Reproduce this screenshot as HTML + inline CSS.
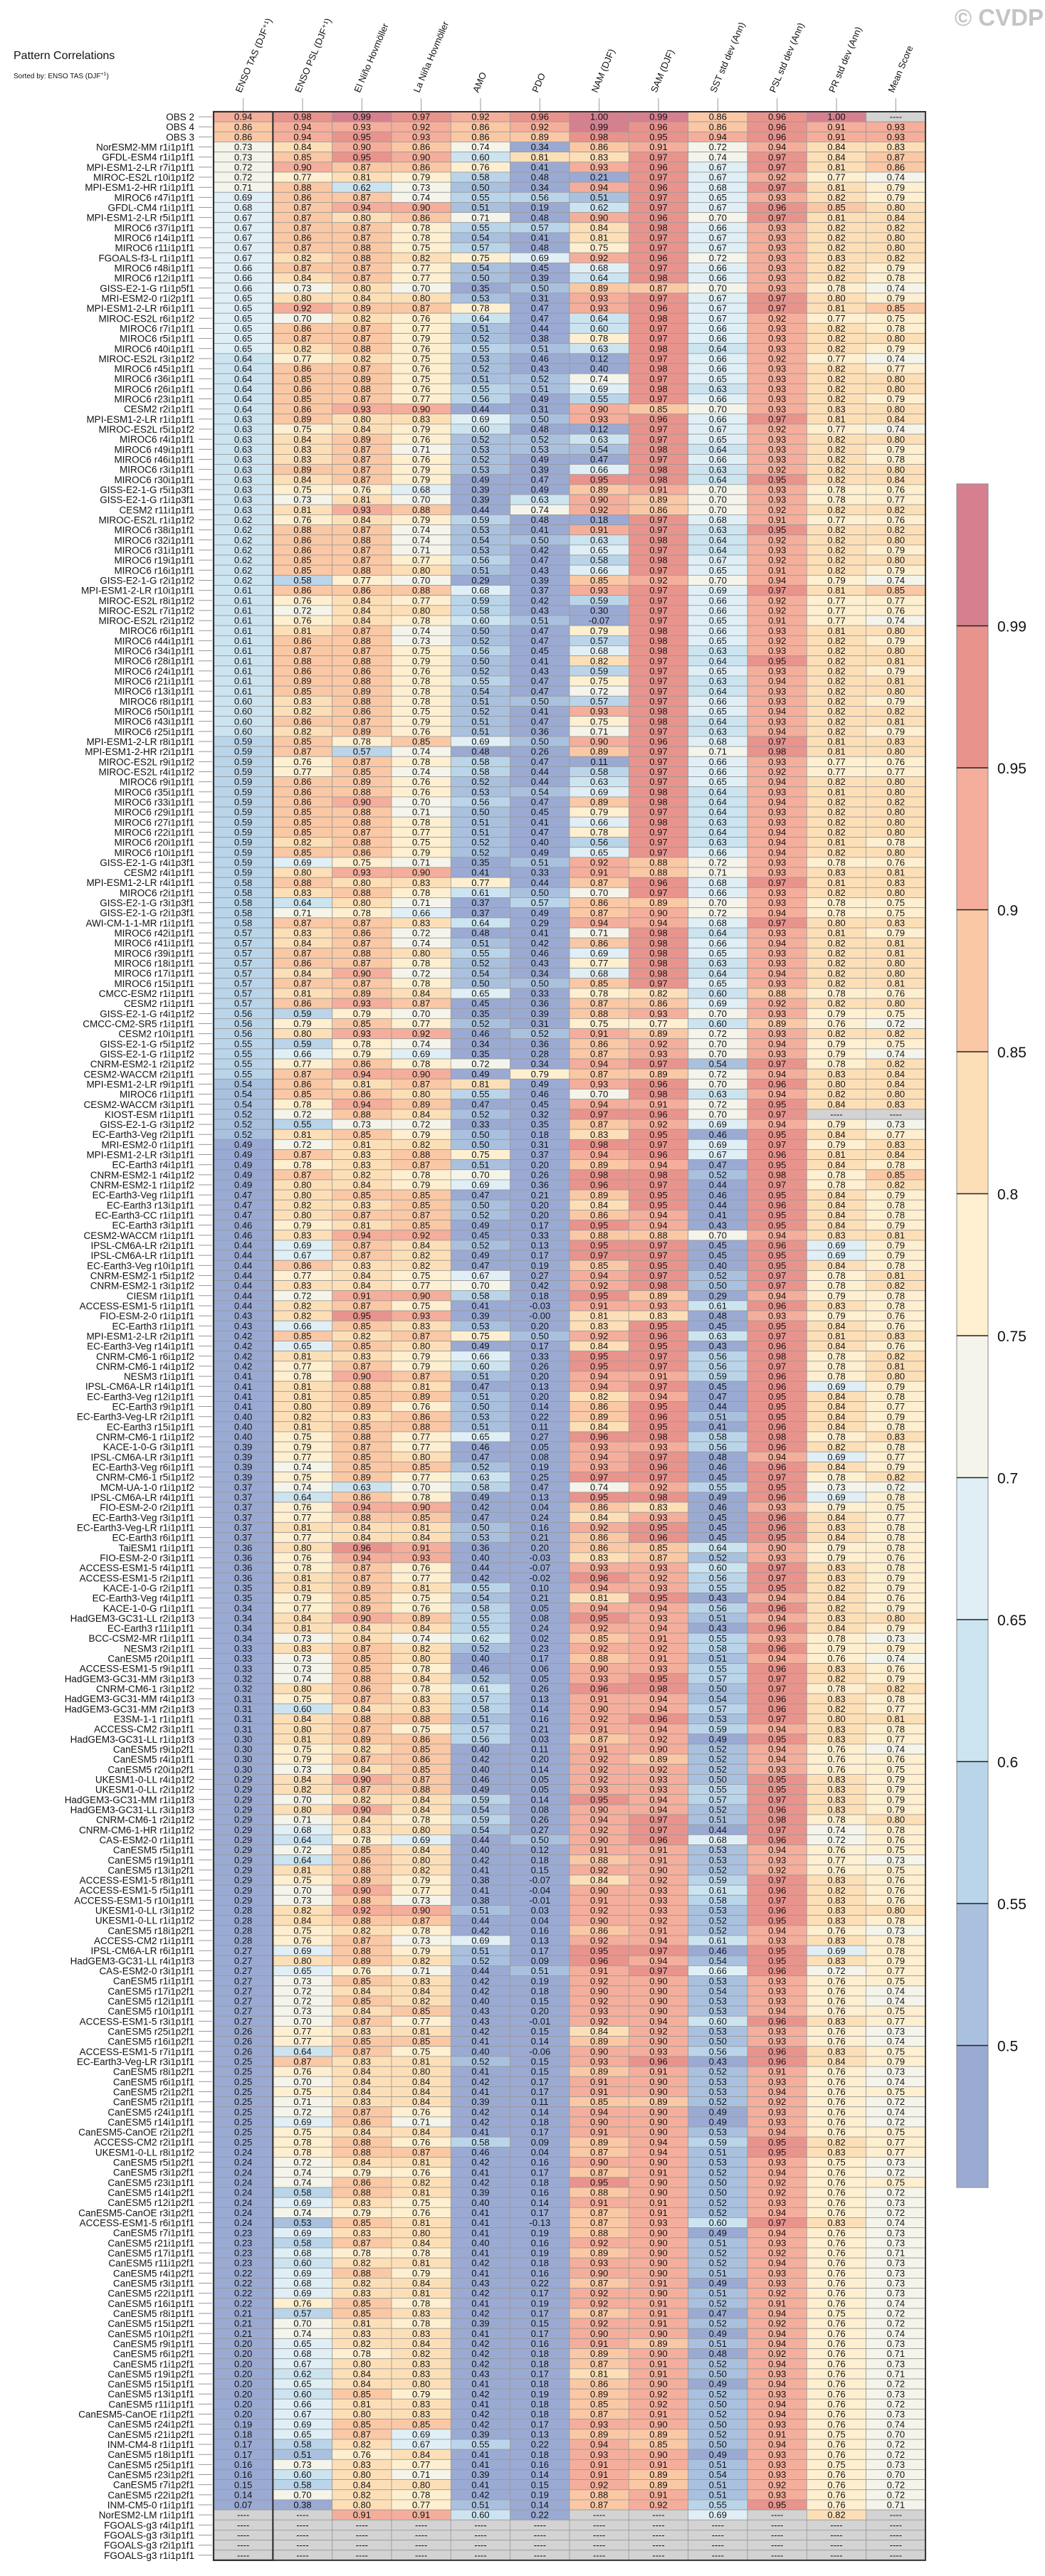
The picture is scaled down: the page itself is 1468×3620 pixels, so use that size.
<!DOCTYPE html>
<html>
<head>
<meta charset="utf-8">
<style>
  html,body{margin:0;padding:0;background:#fff;}
  svg{display:block;font-family:"Liberation Sans",Arial,sans-serif;}
</style>
</head>
<body>
<svg id="chart" xmlns="http://www.w3.org/2000/svg" width="1468" height="3620" viewBox="0 0 1468 3620">
  <rect x="0" y="0" width="1468" height="3620" fill="#fff"/>
  <text x="19" y="83" font-size="16" fill="#111">Pattern Correlations</text>
  <text x="19" y="110" font-size="10" fill="#111">Sorted by: ENSO TAS (DJF<tspan font-size="7" dy="-4">+1</tspan><tspan dy="4">)</tspan></text>
  <text x="1466" y="36" text-anchor="end" font-size="33" font-weight="bold" fill="#c4c4c4">© CVDP</text>
  <g id="headers"></g>
  <g id="names"></g>
  <g id="cells"></g>
  <g id="frame"></g>
  <g id="cbar"></g>
</svg>
<script>
const columns = ["ENSO TAS (DJF\u207A\u00B9)","ENSO PSL (DJF\u207A\u00B9)","El Ni\u00F1o Hovm\u00F6ller","La Ni\u00F1a Hovm\u00F6ller","AMO","PDO","NAM (DJF)","SAM (DJF)","SST std dev (Ann)","PSL std dev (Ann)","PR std dev (Ann)","Mean Score"];
const colKeys = ["enso-tas","enso-psl","el-nino-hovmoller","la-nina-hovmoller","amo","pdo","nam","sam","sst-std-dev","psl-std-dev","pr-std-dev","mean-score"];

const rowNames = ["OBS 2","OBS 4","OBS 3","NorESM2-MM r1i1p1f1","GFDL-ESM4 r1i1p1f1","MPI-ESM1-2-LR r7i1p1f1","MIROC-ES2L r10i1p1f2","MPI-ESM1-2-HR r1i1p1f1","MIROC6 r47i1p1f1","GFDL-CM4 r1i1p1f1","MPI-ESM1-2-LR r5i1p1f1","MIROC6 r37i1p1f1","MIROC6 r14i1p1f1","MIROC6 r11i1p1f1","FGOALS-f3-L r1i1p1f1","MIROC6 r48i1p1f1","MIROC6 r12i1p1f1","GISS-E2-1-G r1i1p5f1","MRI-ESM2-0 r1i2p1f1","MPI-ESM1-2-LR r6i1p1f1","MIROC-ES2L r6i1p1f2","MIROC6 r7i1p1f1","MIROC6 r5i1p1f1","MIROC6 r40i1p1f1","MIROC-ES2L r3i1p1f2","MIROC6 r45i1p1f1","MIROC6 r36i1p1f1","MIROC6 r26i1p1f1","MIROC6 r23i1p1f1","CESM2 r2i1p1f1","MPI-ESM1-2-LR r1i1p1f1","MIROC-ES2L r5i1p1f2","MIROC6 r4i1p1f1","MIROC6 r49i1p1f1","MIROC6 r46i1p1f1",
"MIROC6 r3i1p1f1","MIROC6 r30i1p1f1","GISS-E2-1-G r5i1p3f1","GISS-E2-1-G r1i1p3f1","CESM2 r11i1p1f1","MIROC-ES2L r1i1p1f2","MIROC6 r38i1p1f1","MIROC6 r32i1p1f1","MIROC6 r31i1p1f1","MIROC6 r19i1p1f1","MIROC6 r16i1p1f1","GISS-E2-1-G r2i1p1f2","MPI-ESM1-2-LR r10i1p1f1","MIROC-ES2L r8i1p1f2","MIROC-ES2L r7i1p1f2","MIROC-ES2L r2i1p1f2","MIROC6 r6i1p1f1","MIROC6 r44i1p1f1","MIROC6 r34i1p1f1","MIROC6 r28i1p1f1","MIROC6 r24i1p1f1","MIROC6 r21i1p1f1","MIROC6 r13i1p1f1","MIROC6 r8i1p1f1","MIROC6 r50i1p1f1","MIROC6 r43i1p1f1",
"MIROC6 r25i1p1f1","MPI-ESM1-2-LR r8i1p1f1","MPI-ESM1-2-HR r2i1p1f1","MIROC-ES2L r9i1p1f2","MIROC-ES2L r4i1p1f2","MIROC6 r9i1p1f1","MIROC6 r35i1p1f1","MIROC6 r33i1p1f1","MIROC6 r29i1p1f1","MIROC6 r27i1p1f1","MIROC6 r22i1p1f1","MIROC6 r20i1p1f1","MIROC6 r10i1p1f1","GISS-E2-1-G r4i1p3f1","CESM2 r4i1p1f1","MPI-ESM1-2-LR r4i1p1f1","MIROC6 r2i1p1f1","GISS-E2-1-G r3i1p3f1","GISS-E2-1-G r2i1p3f1","AWI-CM-1-1-MR r1i1p1f1","MIROC6 r42i1p1f1","MIROC6 r41i1p1f1","MIROC6 r39i1p1f1","MIROC6 r18i1p1f1","MIROC6 r17i1p1f1","MIROC6 r15i1p1f1",
"CMCC-ESM2 r1i1p1f1","CESM2 r1i1p1f1","GISS-E2-1-G r4i1p1f2","CMCC-CM2-SR5 r1i1p1f1","CESM2 r10i1p1f1","GISS-E2-1-G r5i1p1f2","GISS-E2-1-G r1i1p1f2","CNRM-ESM2-1 r2i1p1f2",
"CESM2-WACCM r2i1p1f1","MPI-ESM1-2-LR r9i1p1f1","MIROC6 r1i1p1f1","CESM2-WACCM r3i1p1f1","KIOST-ESM r1i1p1f1","GISS-E2-1-G r3i1p1f2","EC-Earth3-Veg r2i1p1f1","MRI-ESM2-0 r1i1p1f1","MPI-ESM1-2-LR r3i1p1f1","EC-Earth3 r4i1p1f1","CNRM-ESM2-1 r4i1p1f2","CNRM-ESM2-1 r1i1p1f2","EC-Earth3-Veg r1i1p1f1","EC-Earth3 r13i1p1f1","EC-Earth3-CC r1i1p1f1","EC-Earth3 r3i1p1f1","CESM2-WACCM r1i1p1f1","IPSL-CM6A-LR r2i1p1f1","IPSL-CM6A-LR r1i1p1f1","EC-Earth3-Veg r10i1p1f1","CNRM-ESM2-1 r5i1p1f2","CNRM-ESM2-1 r3i1p1f2","CIESM r1i1p1f1","ACCESS-ESM1-5 r1i1p1f1","FIO-ESM-2-0 r1i1p1f1",
"EC-Earth3 r1i1p1f1","MPI-ESM1-2-LR r2i1p1f1","EC-Earth3-Veg r14i1p1f1","CNRM-CM6-1 r6i1p1f2","CNRM-CM6-1 r4i1p1f2","NESM3 r1i1p1f1","IPSL-CM6A-LR r14i1p1f1","EC-Earth3-Veg r12i1p1f1","EC-Earth3 r9i1p1f1","EC-Earth3-Veg-LR r2i1p1f1","EC-Earth3 r15i1p1f1","CNRM-CM6-1 r1i1p1f2","KACE-1-0-G r3i1p1f1","IPSL-CM6A-LR r3i1p1f1","EC-Earth3-Veg r6i1p1f1","CNRM-CM6-1 r5i1p1f2","MCM-UA-1-0 r1i1p1f2","IPSL-CM6A-LR r4i1p1f1","FIO-ESM-2-0 r2i1p1f1","EC-Earth3-Veg r3i1p1f1","EC-Earth3-Veg-LR r1i1p1f1","EC-Earth3 r6i1p1f1","TaiESM1 r1i1p1f1","FIO-ESM-2-0 r3i1p1f1","ACCESS-ESM1-5 r4i1p1f1",
"ACCESS-ESM1-5 r2i1p1f1","KACE-1-0-G r2i1p1f1","EC-Earth3-Veg r4i1p1f1","KACE-1-0-G r1i1p1f1","HadGEM3-GC31-LL r2i1p1f3","EC-Earth3 r11i1p1f1","BCC-CSM2-MR r1i1p1f1","NESM3 r2i1p1f1","CanESM5 r20i1p1f1","ACCESS-ESM1-5 r9i1p1f1","HadGEM3-GC31-MM r3i1p1f3","CNRM-CM6-1 r3i1p1f2","HadGEM3-GC31-MM r4i1p1f3","HadGEM3-GC31-MM r2i1p1f3","E3SM-1-1 r1i1p1f1","ACCESS-CM2 r3i1p1f1","HadGEM3-GC31-LL r1i1p1f3","CanESM5 r9i1p2f1","CanESM5 r4i1p1f1","CanESM5 r20i1p2f1","UKESM1-0-LL r4i1p1f2","UKESM1-0-LL r2i1p1f2","HadGEM3-GC31-MM r1i1p1f3","HadGEM3-GC31-LL r3i1p1f3","CNRM-CM6-1 r2i1p1f2",
"CNRM-CM6-1-HR r1i1p1f2","CAS-ESM2-0 r1i1p1f1","CanESM5 r5i1p1f1","CanESM5 r19i1p1f1","CanESM5 r13i1p2f1","ACCESS-ESM1-5 r8i1p1f1","ACCESS-ESM1-5 r5i1p1f1","ACCESS-ESM1-5 r10i1p1f1","UKESM1-0-LL r3i1p1f2","UKESM1-0-LL r1i1p1f2","CanESM5 r18i1p2f1","ACCESS-CM2 r1i1p1f1","IPSL-CM6A-LR r6i1p1f1","HadGEM3-GC31-LL r4i1p1f3","CAS-ESM2-0 r3i1p1f1","CanESM5 r1i1p1f1","CanESM5 r17i1p2f1","CanESM5 r12i1p1f1","CanESM5 r10i1p1f1","ACCESS-ESM1-5 r3i1p1f1","CanESM5 r25i1p2f1","CanESM5 r16i1p2f1","ACCESS-ESM1-5 r7i1p1f1","EC-Earth3-Veg-LR r3i1p1f1","CanESM5 r8i1p2f1",
"CanESM5 r6i1p1f1","CanESM5 r2i1p2f1","CanESM5 r2i1p1f1","CanESM5 r24i1p1f1","CanESM5 r14i1p1f1","CanESM5-CanOE r2i1p2f1","ACCESS-CM2 r2i1p1f1","UKESM1-0-LL r8i1p1f2","CanESM5 r5i1p2f1","CanESM5 r3i1p2f1","CanESM5 r23i1p1f1","CanESM5 r14i1p2f1","CanESM5 r12i1p2f1","CanESM5-CanOE r3i1p2f1","ACCESS-ESM1-5 r6i1p1f1","CanESM5 r7i1p1f1","CanESM5 r21i1p1f1","CanESM5 r17i1p1f1","CanESM5 r11i1p2f1","CanESM5 r4i1p2f1","CanESM5 r3i1p1f1","CanESM5 r22i1p1f1","CanESM5 r16i1p1f1","CanESM5 r8i1p1f1","CanESM5 r15i1p2f1",
"CanESM5 r10i1p2f1","CanESM5 r9i1p1f1","CanESM5 r6i1p2f1","CanESM5 r1i1p2f1","CanESM5 r19i1p2f1","CanESM5 r15i1p1f1","CanESM5 r13i1p1f1","CanESM5 r11i1p1f1","CanESM5-CanOE r1i1p2f1","CanESM5 r24i1p2f1","CanESM5 r21i1p2f1","INM-CM4-8 r1i1p1f1","CanESM5 r18i1p1f1","CanESM5 r25i1p1f1","CanESM5 r23i1p2f1","CanESM5 r7i1p2f1","CanESM5 r22i1p2f1","INM-CM5-0 r1i1p1f1","NorESM2-LM r1i1p1f1","FGOALS-g3 r4i1p1f1","FGOALS-g3 r3i1p1f1","FGOALS-g3 r2i1p1f1","FGOALS-g3 r1i1p1f1"];

const N = null;
const values = [
[.94,.98,.99,.97,.92,.96,1.00,.99,.86,.96,1.00,N],
[.86,.94,.93,.92,.86,.92,.99,.96,.86,.96,.91,.93],
[.86,.94,.95,.93,.86,.89,.98,.95,.94,.96,.91,.93],
[.73,.84,.90,.86,.74,.34,.86,.91,.72,.94,.84,.83],
[.73,.85,.95,.90,.60,.81,.83,.97,.74,.97,.84,.87],
[.72,.90,.87,.86,.76,.41,.93,.96,.67,.97,.81,.86],
[.72,.77,.81,.79,.58,.48,.21,.97,.67,.92,.77,.74],
[.71,.88,.62,.73,.50,.34,.94,.96,.68,.97,.81,.79],
[.69,.86,.87,.74,.55,.56,.51,.97,.65,.93,.82,.79],
[.68,.87,.94,.90,.51,.19,.62,.97,.67,.96,.85,.80],
[.67,.87,.80,.86,.71,.48,.90,.96,.70,.97,.81,.84],
[.67,.87,.87,.78,.55,.57,.84,.98,.66,.93,.82,.82],
[.67,.86,.87,.78,.54,.41,.81,.97,.67,.93,.82,.80],
[.67,.87,.88,.75,.57,.48,.75,.97,.67,.93,.82,.80],
[.67,.82,.88,.82,.75,.69,.92,.96,.72,.93,.83,.82],
[.66,.87,.87,.77,.54,.45,.68,.97,.66,.93,.82,.79],
[.66,.84,.87,.77,.50,.39,.64,.98,.66,.93,.82,.78],
[.66,.73,.80,.70,.35,.50,.89,.87,.70,.93,.78,.74],
[.65,.80,.84,.80,.53,.31,.93,.97,.67,.97,.80,.79],
[.65,.92,.89,.87,.78,.47,.93,.96,.67,.97,.81,.85],
[.65,.70,.82,.76,.64,.47,.64,.98,.67,.92,.77,.75],
[.65,.86,.87,.77,.51,.44,.60,.97,.66,.93,.82,.78],
[.65,.87,.87,.79,.52,.38,.78,.97,.66,.93,.82,.80],
[.65,.82,.88,.76,.55,.51,.63,.98,.64,.93,.82,.79],
[.64,.77,.82,.75,.53,.46,.12,.97,.66,.92,.77,.74],
[.64,.86,.87,.76,.52,.43,.40,.98,.66,.93,.82,.77],
[.64,.85,.89,.75,.51,.52,.74,.97,.65,.93,.82,.80],
[.64,.86,.88,.76,.55,.51,.69,.98,.63,.93,.82,.80],
[.64,.85,.87,.77,.56,.49,.55,.97,.66,.93,.82,.79],
[.64,.86,.93,.90,.44,.31,.90,.85,.70,.93,.83,.80],
[.63,.89,.80,.83,.69,.50,.93,.96,.66,.97,.81,.84],
[.63,.75,.84,.79,.60,.48,.12,.97,.67,.92,.77,.74],
[.63,.84,.89,.76,.52,.52,.63,.97,.65,.93,.82,.80],
[.63,.83,.87,.71,.53,.53,.54,.98,.64,.93,.82,.79],
[.63,.83,.87,.76,.52,.49,.47,.97,.66,.93,.82,.78],
[.63,.89,.87,.79,.53,.39,.66,.98,.63,.92,.82,.80],
[.63,.84,.87,.79,.49,.47,.95,.98,.64,.95,.82,.84],
[.63,.75,.76,.68,.39,.49,.89,.91,.70,.93,.78,.76],
[.63,.73,.81,.70,.39,.63,.90,.89,.70,.93,.78,.77],
[.63,.81,.93,.88,.44,.74,.92,.86,.70,.92,.82,.82],
[.62,.76,.84,.79,.59,.48,.18,.97,.68,.91,.77,.76],
[.62,.88,.87,.74,.53,.41,.91,.97,.63,.95,.82,.82],
[.62,.86,.88,.74,.54,.50,.63,.98,.64,.92,.82,.80],
[.62,.86,.87,.71,.53,.42,.65,.97,.64,.93,.82,.79],
[.62,.85,.87,.77,.56,.47,.58,.98,.67,.92,.82,.80],
[.62,.85,.88,.80,.51,.43,.66,.97,.65,.91,.82,.79],
[.62,.58,.77,.70,.29,.39,.85,.92,.70,.94,.79,.74],
[.61,.86,.86,.88,.68,.37,.93,.97,.69,.97,.81,.85],
[.61,.76,.84,.77,.59,.42,.59,.97,.66,.92,.77,.77],
[.61,.72,.84,.80,.58,.43,.30,.97,.66,.92,.77,.76],
[.61,.76,.84,.78,.60,.51,-.07,.97,.65,.91,.77,.74],
[.61,.81,.87,.74,.50,.47,.79,.98,.66,.93,.81,.80],
[.61,.86,.88,.73,.52,.47,.57,.98,.65,.92,.82,.79],
[.61,.87,.87,.75,.56,.45,.68,.98,.63,.93,.82,.80],
[.61,.88,.88,.79,.50,.41,.82,.97,.64,.95,.82,.81],
[.61,.86,.86,.76,.52,.43,.59,.97,.65,.93,.82,.79],
[.61,.89,.88,.78,.55,.47,.75,.97,.63,.94,.82,.81],
[.61,.85,.89,.78,.54,.47,.72,.97,.64,.93,.82,.80],
[.60,.83,.88,.78,.51,.50,.57,.97,.66,.93,.82,.79],
[.60,.82,.86,.75,.52,.41,.93,.98,.65,.94,.82,.82],
[.60,.86,.87,.79,.51,.47,.75,.98,.64,.93,.82,.81],
[.60,.82,.89,.76,.51,.36,.71,.97,.63,.94,.82,.79],
[.59,.85,.78,.85,.69,.50,.90,.96,.68,.97,.81,.83],
[.59,.87,.57,.74,.48,.26,.89,.97,.71,.98,.81,.80],
[.59,.76,.87,.78,.58,.47,.11,.97,.66,.93,.77,.76],
[.59,.77,.85,.74,.58,.44,.58,.97,.66,.92,.77,.77],
[.59,.86,.89,.76,.52,.44,.63,.97,.65,.94,.82,.80],
[.59,.86,.88,.76,.53,.54,.69,.98,.64,.93,.81,.80],
[.59,.86,.90,.70,.56,.47,.89,.98,.64,.94,.82,.82],
[.59,.85,.88,.71,.50,.45,.79,.97,.64,.93,.82,.80],
[.59,.85,.88,.78,.51,.41,.66,.98,.63,.93,.82,.80],
[.59,.85,.87,.77,.51,.47,.78,.97,.64,.94,.82,.80],
[.59,.82,.88,.75,.52,.40,.56,.97,.63,.94,.81,.78],
[.59,.85,.86,.79,.52,.49,.65,.97,.66,.94,.82,.80],
[.59,.69,.75,.71,.35,.51,.92,.88,.72,.93,.78,.76],
[.59,.80,.93,.90,.41,.33,.91,.88,.71,.93,.83,.81],
[.58,.88,.80,.83,.77,.44,.87,.96,.68,.97,.81,.83],
[.58,.83,.88,.78,.61,.50,.70,.97,.66,.93,.82,.80],
[.58,.64,.80,.71,.37,.57,.86,.89,.70,.93,.78,.75],
[.58,.71,.78,.66,.37,.49,.87,.90,.72,.94,.78,.75],
[.58,.87,.87,.83,.64,.29,.94,.94,.68,.97,.80,.83],
[.57,.83,.86,.72,.48,.41,.71,.98,.64,.93,.81,.79],
[.57,.84,.87,.74,.51,.42,.86,.98,.66,.94,.82,.81],
[.57,.87,.88,.80,.55,.46,.69,.98,.65,.93,.82,.81],
[.57,.86,.87,.78,.52,.43,.77,.98,.63,.93,.82,.80],
[.57,.84,.90,.72,.54,.34,.68,.98,.64,.94,.82,.80],
[.57,.87,.87,.78,.50,.50,.85,.97,.65,.93,.82,.81],
[.57,.81,.89,.84,.65,.33,.78,.82,.60,.88,.78,.76],
[.57,.86,.93,.87,.45,.36,.87,.86,.69,.92,.82,.80],
[.56,.59,.79,.70,.35,.39,.88,.93,.70,.93,.79,.75],
[.56,.79,.85,.77,.52,.31,.75,.77,.60,.89,.76,.72],
[.56,.80,.93,.92,.46,.52,.91,.89,.72,.93,.82,.82],
[.55,.59,.78,.74,.34,.36,.86,.92,.70,.94,.79,.75],
[.55,.66,.79,.69,.35,.28,.87,.93,.70,.93,.79,.74],
[.55,.77,.86,.78,.72,.34,.94,.97,.54,.97,.78,.82],
[.55,.87,.94,.90,.49,.79,.87,.89,.72,.94,.83,.84],
[.54,.86,.81,.87,.81,.49,.93,.96,.70,.96,.80,.84],
[.54,.85,.86,.80,.55,.46,.70,.98,.63,.94,.82,.80],
[.54,.78,.94,.89,.47,.45,.94,.91,.72,.95,.84,.83],
[.52,.72,.88,.84,.52,.32,.97,.96,.70,.97,N,N],
[.52,.55,.73,.72,.33,.35,.87,.92,.69,.94,.79,.73],
[.52,.81,.85,.79,.50,.18,.83,.95,.46,.95,.84,.77],
[.49,.72,.81,.82,.50,.31,.98,.97,.69,.97,.79,.83],
[.49,.87,.83,.88,.75,.37,.94,.96,.67,.96,.81,.84],
[.49,.78,.83,.87,.51,.20,.89,.94,.47,.95,.84,.78],
[.49,.87,.82,.78,.70,.26,.98,.98,.52,.98,.78,.85],
[.49,.80,.84,.79,.69,.36,.96,.97,.44,.97,.78,.82],
[.47,.80,.85,.85,.47,.21,.89,.95,.46,.95,.84,.79],
[.47,.82,.83,.85,.50,.20,.84,.95,.44,.96,.84,.78],
[.47,.80,.87,.87,.52,.20,.86,.94,.41,.95,.84,.78],
[.46,.79,.81,.85,.49,.17,.95,.94,.43,.95,.84,.79],
[.46,.83,.94,.92,.45,.33,.88,.88,.70,.94,.83,.81],
[.44,.69,.87,.84,.52,.13,.95,.97,.45,.96,.69,.79],
[.44,.67,.87,.82,.49,.17,.97,.97,.45,.95,.69,.79],
[.44,.86,.83,.82,.47,.19,.85,.95,.40,.95,.84,.78],
[.44,.77,.84,.75,.67,.27,.94,.97,.52,.97,.78,.81],
[.44,.83,.84,.77,.70,.42,.92,.98,.50,.97,.78,.82],
[.44,.72,.91,.90,.58,.18,.95,.89,.29,.94,.79,.78],
[.44,.82,.87,.75,.41,-.03,.91,.93,.61,.96,.83,.78],
[.43,.82,.95,.93,.39,-0,.81,.83,.48,.93,.79,.76],
[.43,.66,.85,.83,.53,.20,.83,.95,.45,.95,.84,.76],
[.42,.85,.82,.87,.75,.50,.92,.96,.63,.97,.81,.83],
[.42,.65,.85,.80,.49,.17,.84,.95,.43,.96,.84,.76],
[.42,.81,.83,.79,.66,.33,.95,.97,.56,.98,.78,.82],
[.42,.77,.87,.79,.60,.26,.95,.97,.56,.97,.78,.81],
[.41,.78,.90,.87,.51,.20,.94,.91,.59,.96,.78,.80],
[.41,.81,.88,.81,.47,.13,.94,.97,.45,.96,.69,.79],
[.41,.81,.85,.89,.51,.20,.82,.94,.47,.95,.84,.78],
[.41,.80,.89,.76,.50,.14,.86,.95,.44,.95,.84,.77],
[.40,.82,.83,.86,.53,.22,.89,.96,.51,.95,.84,.79],
[.40,.81,.85,.88,.51,.11,.84,.95,.41,.96,.84,.78],
[.40,.75,.88,.77,.65,.27,.96,.98,.58,.98,.78,.83],
[.39,.79,.87,.77,.46,.05,.93,.93,.56,.96,.82,.78],
[.39,.77,.85,.80,.47,.08,.94,.97,.48,.94,.69,.77],
[.39,.74,.85,.85,.52,.19,.93,.96,.46,.96,.84,.79],
[.39,.75,.89,.77,.63,.25,.97,.97,.45,.97,.78,.82],
[.37,.74,.63,.70,.58,.47,.74,.92,.55,.95,.73,.72],
[.37,.64,.86,.78,.49,.13,.95,.98,.49,.96,.69,.78],
[.37,.76,.94,.90,.42,.04,.86,.83,.46,.93,.79,.75],
[.37,.77,.88,.85,.47,.24,.84,.93,.45,.96,.84,.77],
[.37,.81,.84,.81,.50,.16,.92,.95,.45,.96,.83,.78],
[.37,.77,.84,.84,.53,.21,.86,.96,.45,.95,.84,.78],
[.36,.80,.96,.91,.36,.20,.86,.85,.64,.90,.79,.78],
[.36,.76,.94,.93,.40,-.03,.83,.87,.52,.93,.79,.76],
[.36,.78,.87,.76,.44,-.07,.93,.93,.60,.97,.83,.78],
[.36,.81,.87,.77,.42,-.02,.96,.92,.56,.97,.83,.79],
[.35,.81,.89,.81,.55,.10,.94,.93,.55,.95,.82,.79],
[.35,.79,.85,.75,.54,.21,.81,.95,.43,.94,.84,.76],
[.34,.77,.89,.76,.58,.05,.94,.94,.56,.96,.82,.79],
[.34,.84,.90,.89,.55,.08,.95,.93,.51,.94,.83,.80],
[.34,.81,.84,.84,.55,.24,.92,.94,.43,.96,.84,.79],
[.34,.73,.84,.74,.62,.02,.85,.91,.55,.93,.78,.73],
[.33,.83,.87,.82,.52,.23,.92,.92,.58,.96,.79,.79],
[.33,.73,.85,.80,.40,.17,.88,.91,.51,.94,.76,.74],
[.33,.73,.85,.78,.46,.06,.90,.93,.55,.96,.83,.76],
[.32,.74,.88,.84,.52,.05,.93,.95,.57,.97,.82,.79],
[.32,.80,.86,.78,.61,.26,.96,.98,.50,.97,.78,.82],
[.31,.75,.87,.83,.57,.13,.91,.94,.54,.96,.83,.78],
[.31,.60,.84,.83,.58,.14,.90,.94,.57,.96,.82,.77],
[.31,.84,.88,.88,.51,.16,.92,.96,.53,.97,.80,.81],
[.31,.80,.87,.75,.57,.21,.91,.94,.59,.94,.83,.78],
[.30,.81,.89,.86,.56,.03,.87,.92,.49,.95,.83,.77],
[.30,.75,.82,.85,.40,.11,.91,.90,.52,.94,.76,.74],
[.30,.79,.87,.86,.42,.20,.92,.89,.52,.94,.76,.76],
[.30,.73,.84,.85,.40,.14,.92,.92,.52,.93,.76,.75],
[.29,.84,.90,.87,.46,.05,.92,.93,.50,.95,.83,.79],
[.29,.82,.87,.88,.49,.05,.93,.93,.55,.95,.83,.79],
[.29,.70,.82,.84,.59,.14,.95,.94,.57,.97,.83,.79],
[.29,.80,.90,.84,.54,.08,.90,.94,.52,.96,.83,.79],
[.29,.71,.84,.78,.59,.26,.94,.97,.51,.98,.78,.80],
[.29,.68,.83,.80,.54,.27,.92,.97,.44,.97,.74,.78],
[.29,.64,.78,.69,.44,.50,.90,.96,.68,.96,.72,.76],
[.29,.72,.85,.84,.40,.12,.91,.91,.53,.94,.76,.75],
[.29,.64,.86,.80,.42,.18,.88,.91,.53,.93,.77,.73],
[.29,.81,.88,.82,.41,.15,.92,.90,.52,.92,.76,.75],
[.29,.75,.89,.79,.38,-.07,.84,.92,.59,.97,.83,.76],
[.29,.70,.90,.77,.41,-.04,.90,.93,.61,.96,.82,.76],
[.29,.73,.88,.73,.38,-.01,.91,.93,.58,.97,.83,.76],
[.28,.82,.92,.90,.51,.03,.92,.93,.53,.96,.83,.80],
[.28,.84,.88,.87,.44,.04,.90,.92,.52,.95,.83,.78],
[.28,.75,.82,.78,.42,.16,.86,.91,.52,.94,.76,.73],
[.28,.76,.87,.73,.69,.13,.92,.94,.61,.93,.83,.78],
[.27,.69,.88,.79,.51,.17,.95,.97,.46,.95,.69,.78],
[.27,.80,.89,.82,.52,.09,.96,.94,.54,.95,.83,.79],
[.27,.65,.76,.71,.44,.51,.91,.97,.66,.96,.72,.77],
[.27,.73,.85,.83,.42,.19,.92,.90,.53,.93,.76,.75],
[.27,.72,.84,.84,.42,.18,.90,.90,.54,.93,.76,.74],
[.27,.72,.85,.82,.40,.15,.92,.90,.53,.93,.76,.74],
[.27,.73,.84,.85,.43,.20,.93,.90,.53,.94,.76,.75],
[.27,.70,.87,.77,.43,-.01,.92,.94,.60,.96,.83,.77],
[.26,.77,.83,.81,.42,.15,.84,.92,.53,.93,.76,.73],
[.26,.77,.85,.85,.41,.14,.89,.90,.50,.93,.76,.74],
[.26,.64,.87,.75,.40,-.06,.90,.93,.56,.96,.83,.75],
[.25,.87,.83,.81,.52,.15,.93,.96,.43,.96,.84,.79],
[.25,.76,.84,.80,.41,.15,.89,.91,.52,.91,.76,.73],
[.25,.70,.84,.84,.42,.17,.91,.90,.53,.93,.76,.74],
[.25,.75,.84,.84,.41,.17,.91,.90,.53,.94,.76,.75],
[.25,.71,.83,.84,.39,.11,.85,.89,.52,.92,.76,.72],
[.25,.72,.87,.76,.42,.14,.94,.90,.49,.93,.76,.74],
[.25,.69,.86,.71,.42,.18,.90,.90,.49,.93,.76,.72],
[.25,.75,.84,.84,.41,.17,.91,.90,.53,.94,.76,.75],
[.25,.78,.88,.76,.58,.09,.89,.94,.59,.95,.82,.77],
[.24,.78,.88,.87,.46,.04,.87,.94,.51,.95,.83,.77],
[.24,.72,.84,.81,.42,.16,.90,.90,.53,.93,.75,.73],
[.24,.74,.79,.76,.41,.17,.87,.91,.52,.94,.76,.72],
[.24,.74,.86,.82,.42,.18,.95,.90,.50,.92,.76,.75],
[.24,.58,.88,.81,.39,.16,.88,.90,.50,.92,.76,.72],
[.24,.69,.83,.75,.40,.14,.91,.91,.52,.93,.76,.73],
[.24,.74,.79,.76,.41,.17,.87,.91,.52,.94,.76,.72],
[.24,.53,.85,.81,.41,-.13,.87,.93,.60,.97,.83,.74],
[.23,.69,.83,.80,.41,.19,.88,.90,.49,.94,.76,.73],
[.23,.58,.87,.84,.40,.16,.92,.90,.51,.93,.76,.73],
[.23,.68,.78,.78,.41,.19,.89,.90,.52,.92,.76,.71],
[.23,.60,.82,.81,.42,.18,.93,.90,.52,.94,.76,.73],
[.22,.69,.88,.79,.41,.16,.90,.90,.51,.93,.76,.73],
[.22,.68,.82,.84,.43,.22,.87,.91,.49,.93,.76,.73],
[.22,.69,.83,.81,.42,.17,.92,.90,.51,.92,.76,.73],
[.22,.76,.85,.78,.41,.19,.92,.91,.52,.91,.76,.74],
[.21,.57,.85,.83,.42,.17,.87,.91,.47,.94,.75,.72],
[.21,.70,.81,.78,.39,.15,.92,.91,.52,.92,.76,.72],
[.21,.74,.83,.83,.41,.17,.90,.90,.49,.94,.76,.74],
[.20,.65,.82,.84,.42,.16,.91,.89,.51,.94,.76,.73],
[.20,.68,.78,.82,.42,.18,.89,.90,.48,.92,.76,.71],
[.20,.67,.80,.83,.42,.18,.87,.91,.52,.94,.76,.73],
[.20,.62,.84,.83,.43,.17,.81,.91,.50,.93,.76,.71],
[.20,.65,.84,.80,.41,.18,.86,.90,.49,.94,.76,.72],
[.20,.60,.85,.79,.42,.19,.89,.92,.52,.93,.76,.73],
[.20,.66,.81,.83,.41,.18,.85,.92,.50,.94,.76,.72],
[.20,.67,.80,.83,.42,.18,.87,.91,.52,.94,.76,.73],
[.19,.69,.85,.85,.42,.17,.93,.90,.50,.93,.76,.74],
[.18,.65,.87,.69,.39,.13,.89,.89,.52,.91,.75,.70],
[.17,.58,.82,.67,.55,.22,.94,.85,.50,.94,.76,.72],
[.17,.51,.76,.84,.41,.18,.93,.90,.49,.93,.76,.72],
[.16,.73,.83,.77,.41,.16,.91,.91,.51,.93,.75,.73],
[.16,.60,.80,.71,.39,.14,.91,.89,.54,.93,.76,.70],
[.15,.58,.84,.80,.41,.15,.92,.89,.51,.92,.76,.72],
[.14,.70,.82,.78,.42,.19,.88,.91,.51,.93,.76,.72],
[.07,.38,.80,.77,.51,.14,.87,.92,.55,.95,.76,.71],
[N,N,.91,.91,.60,.22,N,N,.69,N,.82,N],
[N,N,N,N,N,N,N,N,N,N,N,N],
[N,N,N,N,N,N,N,N,N,N,N,N],
[N,N,N,N,N,N,N,N,N,N,N,N],
[N,N,N,N,N,N,N,N,N,N,N,N]
];

const levels = [0.5,0.55,0.6,0.65,0.7,0.75,0.8,0.85,0.9,0.95,0.99];
const levelLabels = ["0.5","0.55","0.6","0.65","0.7","0.75","0.8","0.85","0.9","0.95","0.99"];
const palette = ["#9aaad3","#a9c1de","#bad5e9","#cce4f0","#e0eff6","#f4f4ea","#fdefcf","#fddfb7","#fac8a5","#f4ae9b","#e9938d","#d6808f"];

const NS = "http://www.w3.org/2000/svg";
const tableX = 300, tableTop = 157, colW = 83.34, rowH = 14.16;
const xCol = i => tableX + i * colW;
const yRow = i => tableTop + i * rowH;
function colorFor(v){
  if (v === null) return "#d3d3d3";
  let k = 0;
  for (let i = 0; i < levels.length; i++) if (v >= levels[i]) k = i + 1;
  return palette[k];
}
function fmt(v){
  if (v === null) return "----";
  if (v === 0 && 1/v < 0) return "-0.00";
  return v.toFixed(2);
}
function mk(tag, attrs, parent){
  const e = document.createElementNS(NS, tag);
  for (const k in attrs) e.setAttribute(k, attrs[k]);
  parent.appendChild(e);
  return e;
}

// headers
const hg = document.getElementById("headers");
columns.forEach((c, i) => {
  const cx = xCol(i) + colW / 2;
  const t = mk("text", {x: cx - 3, y: 131, "font-size": 13, fill: "#111", transform: `rotate(-67 ${cx - 3} 131)`}, hg);
  t.textContent = c;
  
  
  const l = mk("line", {x1: cx, x2: cx, y1: 138, y2: tableTop, stroke: "#999", "stroke-width": 1}, hg);
  
  
});

// names
const ng = document.getElementById("names");
const cg = document.getElementById("cells");
rowNames.forEach((n, r) => {
  const cy = yRow(r) + rowH / 2;
  const t = mk("text", {x: 273, y: cy + 5, "font-size": 13.5, "text-anchor": "end", fill: "#111"}, ng);
  t.textContent = n;
  
  
  const l = mk("line", {x1: 279, x2: 298, y1: cy, y2: cy, stroke: "#999", "stroke-width": 1}, ng);
  
  
  const rowVals = values[r] || [];
  for (let c = 0; c < columns.length; c++) {
    const v = rowVals[c] === undefined ? null : rowVals[c];
    const rect = mk("rect", {x: xCol(c), y: yRow(r), width: colW, height: rowH, fill: colorFor(v), stroke: "#9a9a9a", "stroke-width": 0.8}, cg);
    
    
    const tx = mk("text", {x: xCol(c) + colW / 2, y: yRow(r) + rowH - 2.5, "font-size": 13, "text-anchor": "middle", fill: "#111"}, cg);
    tx.textContent = fmt(v);
    
    
  }
});

// frame
const fg = document.getElementById("frame");
const tableH = rowNames.length * rowH;
const outer = mk("rect", {x: tableX, y: tableTop, width: colW * columns.length, height: tableH, fill: "none", stroke: "#333", "stroke-width": 2}, fg);


const sortCol = mk("rect", {x: tableX, y: tableTop, width: colW, height: tableH, fill: "none", stroke: "#333", "stroke-width": 2.2}, fg);



// colorbar
const bg = document.getElementById("cbar");
const cbX = 1344, cbW = 44, cbTop = 680, boxH = 199.5;
const nBoxes = palette.length;
for (let i = 0; i < nBoxes; i++) {
  const y = cbTop + i * boxH;
  const r = mk("rect", {x: cbX, y: y, width: cbW, height: boxH, fill: palette[nBoxes - 1 - i]}, bg);
  
  
}
const cbo = mk("rect", {x: cbX, y: cbTop, width: cbW, height: boxH * nBoxes, fill: "none", stroke: "#888", "stroke-width": 1}, bg);


levels.forEach((lv, i) => {
  const y = cbTop + (nBoxes - 1 - i) * boxH;
  const l = mk("line", {x1: cbX, x2: cbX + cbW, y1: y, y2: y, stroke: "#222", "stroke-width": 1.5}, bg);
  
  
  const t = mk("text", {x: cbX + cbW + 13, y: y + 8, "font-size": 21, fill: "#111"}, bg);
  t.textContent = levelLabels[i];
  
  
});
</script>
</body>
</html>
